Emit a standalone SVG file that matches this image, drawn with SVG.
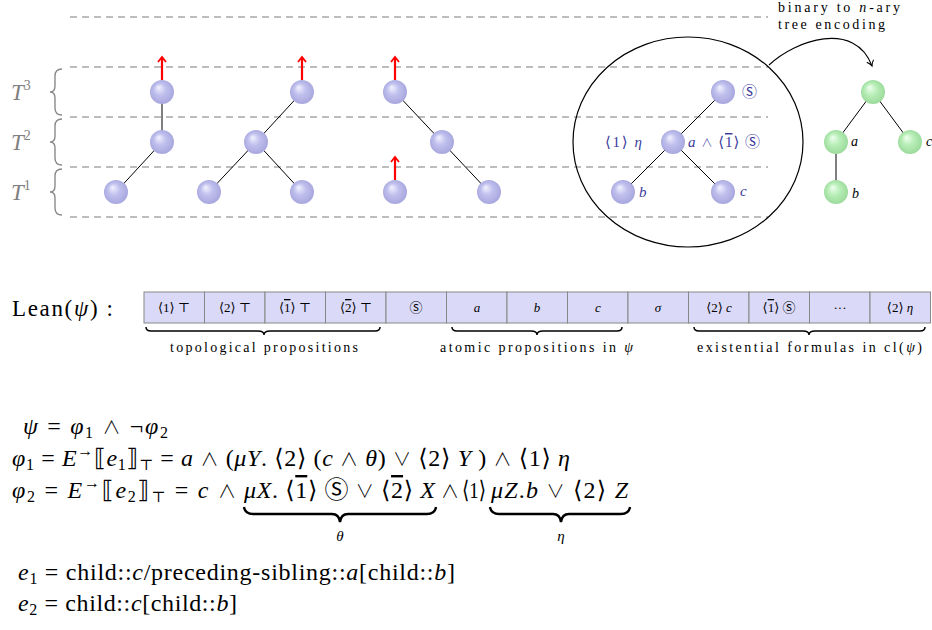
<svg xmlns="http://www.w3.org/2000/svg" width="932" height="630" viewBox="0 0 932 630">
<defs>
<radialGradient id="gb" cx="0.5" cy="0.5" r="0.55" fx="0.35" fy="0.3">
<stop offset="0" stop-color="#f2f2ff"/>
<stop offset="0.45" stop-color="#c0c0ee"/>
<stop offset="1" stop-color="#a4a4dc"/>
</radialGradient>
<radialGradient id="gg" cx="0.5" cy="0.5" r="0.55" fx="0.35" fy="0.3">
<stop offset="0" stop-color="#f0fff0"/>
<stop offset="0.45" stop-color="#b8eeb8"/>
<stop offset="1" stop-color="#98d898"/>
</radialGradient>
<marker id="red" viewBox="0 0 10 10" refX="7" refY="5" markerWidth="10" markerHeight="10" markerUnits="userSpaceOnUse" orient="auto">
<path d="M2,1 L7,5 L2,9" fill="none" stroke="#ff0000" stroke-width="1.8"/>
</marker>
<marker id="blk" viewBox="0 0 10 10" refX="8" refY="5" markerWidth="9" markerHeight="9" markerUnits="userSpaceOnUse" orient="auto">
<path d="M2,1 Q5,4 8,5 Q5,6 2,9" fill="none" stroke="#000" stroke-width="1.1"/>
</marker>
</defs>
<style>
.dash{stroke:#a8a8a8;stroke-width:1.5;stroke-dasharray:7 5;fill:none}
.br{stroke:#8a8a8a;stroke-width:1.4;fill:none}
.edge{stroke:#000;stroke-width:1}
.redarrow{stroke:#ff0000;stroke-width:2.2;marker-end:url(#red)}
.nb{fill:url(#gb)}
.ng{fill:url(#gg)}
.m{font-family:"Liberation Serif","DejaVu Serif","DejaVu Sans","Noto Sans CJK JP",serif;fill:#000}
.i{font-style:italic}
.op{font-family:"Noto Sans CJK JP","DejaVu Serif",serif;font-weight:300;font-size:0.75em}
.tl{font-family:"Liberation Serif","DejaVu Serif",serif;font-style:italic;font-size:23px;fill:#808080}
.blue{font-family:"Liberation Serif","DejaVu Serif","DejaVu Sans","Noto Sans CJK JP",serif;fill:#3a3a9c;font-size:15px}
.cell{fill:#dadaf8;stroke:#888;stroke-width:1}
.ct{font-family:"Liberation Serif","DejaVu Serif","DejaVu Sans","Noto Sans CJK JP",serif;font-size:13px;text-anchor:middle;fill:#000}
.small{font-family:"Liberation Serif","DejaVu Serif",serif;font-size:14px;fill:#000}
.ub{stroke:#000;stroke-width:1.5;fill:none}
.ub2{stroke:#000;stroke-width:2.4;fill:none}
.ov{text-decoration:overline}
</style>

<g id="levels">
<line class="dash" x1="70" y1="17" x2="768" y2="17"/>
<line class="dash" x1="70" y1="67" x2="768" y2="67"/>
<line class="dash" x1="70" y1="117" x2="768" y2="117"/>
<line class="dash" x1="70" y1="167" x2="768" y2="167"/>
<line class="dash" x1="70" y1="217" x2="768" y2="217"/>
<path class="br" d="M62,69 Q55,69 55,76 L55,86 Q55,92 50,92 Q55,92 55,98 L55,108 Q55,115 62,115"/>
<path class="br" d="M62,119 Q55,119 55,126 L55,136 Q55,142 50,142 Q55,142 55,148 L55,158 Q55,165 62,165"/>
<path class="br" d="M62,169 Q55,169 55,176 L55,186 Q55,192 50,192 Q55,192 55,198 L55,208 Q55,215 62,215"/>
<text class="tl" x="11" y="100">T<tspan font-size="14" font-style="normal" dy="-10">3</tspan></text>
<text class="tl" x="11" y="150">T<tspan font-size="14" font-style="normal" dy="-10">2</tspan></text>
<text class="tl" x="11" y="200">T<tspan font-size="14" font-style="normal" dy="-10">1</tspan></text>
</g>

<g id="connectors">
<line class="edge" x1="162" y1="92" x2="162" y2="142"/>
<line class="edge" x1="162" y1="142" x2="116" y2="192"/>
<line class="edge" x1="302" y1="92" x2="256" y2="142"/>
<line class="edge" x1="256" y1="142" x2="209" y2="192"/>
<line class="edge" x1="256" y1="142" x2="302" y2="192"/>
<line class="edge" x1="395" y1="92" x2="442" y2="142"/>
<line class="edge" x1="442" y1="142" x2="489" y2="192"/>
<line class="edge" x1="723" y1="92" x2="673" y2="142"/>
<line class="edge" x1="673" y1="142" x2="623" y2="192"/>
<line class="edge" x1="673" y1="142" x2="723" y2="192"/>
<line class="edge" x1="873" y1="92" x2="836" y2="142"/>
<line class="edge" x1="873" y1="92" x2="910" y2="142"/>
<line class="edge" x1="836" y1="142" x2="836" y2="192"/>
<line class="redarrow" x1="162" y1="80" x2="162" y2="57"/>
<line class="redarrow" x1="302" y1="80" x2="302" y2="57"/>
<line class="redarrow" x1="395" y1="80" x2="395" y2="57"/>
<line class="redarrow" x1="395" y1="180" x2="395" y2="157"/>
<path d="M769,65 C795,40 855,20 872,66" fill="none" stroke="#000" stroke-width="1.1" marker-end="url(#blk)"/>
</g>

<g id="tree1">
<circle class="nb" cx="162" cy="92" r="12"/>
<circle class="nb" cx="162" cy="142" r="12"/>
<circle class="nb" cx="116" cy="192" r="12"/>
</g>
<g id="tree2">
<circle class="nb" cx="302" cy="92" r="12"/>
<circle class="nb" cx="256" cy="142" r="12"/>
<circle class="nb" cx="209" cy="192" r="12"/>
<circle class="nb" cx="302" cy="192" r="12"/>
</g>
<g id="tree3">
<circle class="nb" cx="395" cy="92" r="12"/>
<circle class="nb" cx="442" cy="142" r="12"/>
<circle class="nb" cx="395" cy="192" r="12"/>
<circle class="nb" cx="489" cy="192" r="12"/>
</g>
<g id="tree4">
<ellipse cx="688" cy="142" rx="115" ry="105" fill="none" stroke="#000" stroke-width="1.2"/>
<circle class="nb" cx="723" cy="92" r="12"/>
<circle class="nb" cx="673" cy="142" r="12"/>
<circle class="nb" cx="623" cy="192" r="12"/>
<circle class="nb" cx="723" cy="192" r="12"/>
<text class="blue" x="742" y="97">Ⓢ</text>
<text class="blue" x="605" y="147" textLength="37" lengthAdjust="spacing">⟨1⟩ <tspan class="i">η</tspan></text>
<text class="blue" x="688" y="147" textLength="72" lengthAdjust="spacing"><tspan class="i">a</tspan> <tspan class="op">∧</tspan> ⟨<tspan class="ov">1</tspan>⟩ Ⓢ</text>
<text class="blue i" x="639" y="197">b</text>
<text class="blue i" x="740" y="196">c</text>
</g>
<g id="tree5">
<circle class="ng" cx="873" cy="92" r="12"/>
<circle class="ng" cx="836" cy="142" r="12"/>
<circle class="ng" cx="910" cy="142" r="12"/>
<circle class="ng" cx="836" cy="192" r="12"/>
<text class="m i" x="851" y="146" font-size="14">a</text>
<text class="m i" x="926" y="146" font-size="14">c</text>
<text class="m i" x="852" y="198" font-size="14">b</text>
</g>
<g id="encoding-label">
<text class="small" x="778" y="12" textLength="122" lengthAdjust="spacing">binary to <tspan class="i">n</tspan>-ary</text>
<text class="small" x="778" y="29" textLength="107" lengthAdjust="spacing">tree encoding</text>
</g>

<g id="lean">
<text class="m" x="12" y="316" font-size="23" textLength="101" lengthAdjust="spacing">Lean(<tspan class="i">ψ</tspan>) :</text>
<rect class="cell" x="144" y="292" width="60.5" height="31"/>
<rect class="cell" x="204.5" y="292" width="60.5" height="31"/>
<rect class="cell" x="265" y="292" width="60.5" height="31"/>
<rect class="cell" x="325.5" y="292" width="60.5" height="31"/>
<rect class="cell" x="386" y="292" width="60.5" height="31"/>
<rect class="cell" x="446.5" y="292" width="60.5" height="31"/>
<rect class="cell" x="507" y="292" width="60.5" height="31"/>
<rect class="cell" x="567.5" y="292" width="60.5" height="31"/>
<rect class="cell" x="628" y="292" width="60.5" height="31"/>
<rect class="cell" x="688.5" y="292" width="60.5" height="31"/>
<rect class="cell" x="749" y="292" width="60.5" height="31"/>
<rect class="cell" x="809.5" y="292" width="60.5" height="31"/>
<rect class="cell" x="870" y="292" width="60.5" height="31"/>
<text class="ct" x="174" y="312">⟨1⟩ ⊤</text>
<text class="ct" x="235" y="312">⟨2⟩ ⊤</text>
<text class="ct" x="295" y="312">⟨<tspan class="ov">1</tspan>⟩ ⊤</text>
<text class="ct" x="356" y="312">⟨<tspan class="ov">2</tspan>⟩ ⊤</text>
<text class="ct" x="416" y="312">Ⓢ</text>
<text class="ct i" x="477" y="312">a</text>
<text class="ct i" x="537" y="312">b</text>
<text class="ct i" x="598" y="312">c</text>
<text class="ct i" x="658" y="312">σ</text>
<text class="ct" x="719" y="312">⟨2⟩ <tspan class="i">c</tspan></text>
<text class="ct" x="779" y="312">⟨<tspan class="ov">1</tspan>⟩ Ⓢ</text>
<text class="ct" x="840" y="312">···</text>
<text class="ct" x="900" y="312">⟨2⟩ <tspan class="i">η</tspan></text>
<path class="ub" d="M146,327 Q146,331 151,331 L258,331 Q264,331 264,335 Q264,331 270,331 L375,331 Q380,331 380,327"/>
<path class="ub" d="M452,327 Q452,331 457,331 L531,331 Q537,331 537,335 Q537,331 543,331 L617,331 Q622,331 622,327"/>
<path class="ub" d="M694,327 Q694,331 699,331 L803,331 Q809,331 809,335 Q809,331 815,331 L920,331 Q925,331 925,327"/>
<text class="small" x="170" y="352" textLength="188" lengthAdjust="spacing">topological propositions</text>
<text class="small" x="440" y="352" textLength="193" lengthAdjust="spacing">atomic propositions in <tspan class="i">ψ</tspan></text>
<text class="small" x="697" y="352" textLength="225" lengthAdjust="spacing">existential formulas in cl(<tspan class="i">ψ</tspan>)</text>
</g>

<g id="formulas" font-size="24">
<text class="m" x="23" y="434" textLength="145" lengthAdjust="spacing"><tspan class="i">ψ</tspan> = <tspan class="i">φ</tspan><tspan font-size="16" dy="4">1</tspan><tspan dy="-4"> </tspan><tspan class="op">∧</tspan> ¬<tspan class="i">φ</tspan><tspan font-size="16" dy="4">2</tspan></text>
<text class="m" x="12" y="466" textLength="558" lengthAdjust="spacing"><tspan class="i">φ</tspan><tspan font-size="16" dy="4">1</tspan><tspan dy="-4"> = </tspan><tspan class="i">E</tspan><tspan font-size="16" dy="-10">→</tspan><tspan dy="10">⟦</tspan><tspan class="i">e</tspan><tspan font-size="16" dy="4">1</tspan><tspan dy="-4">⟧</tspan><tspan font-size="15" dy="4">⊤</tspan><tspan dy="-4"> = </tspan><tspan class="i">a</tspan> <tspan class="op">∧</tspan> (<tspan class="i">μY</tspan>. ⟨2⟩ (<tspan class="i">c</tspan> <tspan class="op">∧</tspan> <tspan class="i">θ</tspan>) <tspan class="op">∨</tspan> ⟨2⟩ <tspan class="i">Y</tspan> ) <tspan class="op">∧</tspan> ⟨1⟩ <tspan class="i">η</tspan></text>
<text class="m" x="12" y="498" textLength="224" lengthAdjust="spacing"><tspan class="i">φ</tspan><tspan font-size="16" dy="4">2</tspan><tspan dy="-4"> = </tspan><tspan class="i">E</tspan><tspan font-size="16" dy="-10">→</tspan><tspan dy="10">⟦</tspan><tspan class="i">e</tspan><tspan font-size="16" dy="4">2</tspan><tspan dy="-4">⟧</tspan><tspan font-size="15" dy="4">⊤</tspan><tspan dy="-4"> = </tspan><tspan class="i">c</tspan> <tspan class="op">∧</tspan></text>
<text class="m" x="244" y="498" textLength="191" lengthAdjust="spacing"><tspan class="i">μX</tspan>. ⟨<tspan class="ov">1</tspan>⟩ Ⓢ <tspan class="op">∨</tspan> ⟨<tspan class="ov">2</tspan>⟩ <tspan class="i">X</tspan></text>
<text class="m" x="441" y="498"><tspan class="op">∧</tspan></text>
<text class="m" x="462" y="498" textLength="24" lengthAdjust="spacingAndGlyphs">⟨1⟩</text>
<text class="m" x="491" y="498" textLength="137" lengthAdjust="spacing"><tspan class="i">μZ</tspan>.<tspan class="i">b</tspan> <tspan class="op">∨</tspan> ⟨2⟩ <tspan class="i">Z</tspan></text>
<path class="ub2" d="M244,507 Q245,514 253,514 L332,514 Q339,514 340,522 Q341,514 348,514 L427,514 Q435,514 436,507"/>
<path class="ub2" d="M490,507 Q491,514 499,514 L553,514 Q560,514 561,522 Q562,514 569,514 L621,514 Q629,514 630,507"/>
<text class="m i" x="340" y="541" font-size="15" text-anchor="middle">θ</text>
<text class="m i" x="561" y="541" font-size="15" text-anchor="middle">η</text>
<text class="m" x="18" y="580" textLength="437" lengthAdjust="spacing"><tspan class="i">e</tspan><tspan font-size="16" dy="4">1</tspan><tspan dy="-4"> = child::</tspan><tspan class="i">c</tspan>/preceding-sibling::<tspan class="i">a</tspan>[child::<tspan class="i">b</tspan>]</text>
<text class="m" x="18" y="611" textLength="219" lengthAdjust="spacing"><tspan class="i">e</tspan><tspan font-size="16" dy="4">2</tspan><tspan dy="-4"> = child::</tspan><tspan class="i">c</tspan>[child::<tspan class="i">b</tspan>]</text>
</g>
</svg>
